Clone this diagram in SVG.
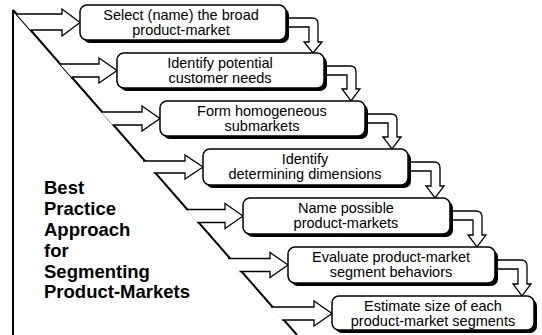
<svg xmlns="http://www.w3.org/2000/svg" width="542" height="335" viewBox="0 0 542 335">
  <style>
    .frame { fill: none; stroke: #000; stroke-width: 2; }
    .body { fill: #fff; stroke: #000; stroke-width: 1.5; }
    .shadow { fill: #000; }
    .arrow { fill: #fff; stroke: #000; stroke-width: 1.3; stroke-linejoin: miter; }
    .label { font-family: "Liberation Sans", Arial, sans-serif; font-size: 14.5px; fill: #000; text-anchor: middle; }
    .title { font-family: "Liberation Sans", Arial, sans-serif; font-size: 18.5px; font-weight: bold; fill: #000; }
  </style>
  <rect width="542" height="335" fill="#fff"/>

  <!-- staircase frame -->
  <g id="frame">
    <path class="frame" d="M13,10 L13,335 M13,10 L297,335"/>
  </g>

  <!-- connectors: block arrows from the frame and bent arrows between steps -->
  <g id="connectors">
    <path class="arrow" d="M16.5,14 L62,14 L62,9 L80,22.5 L62,36 L62,30 L30.5,30"/>
    <path class="arrow" d="M60,64 L99,64 L99,58 L117,70.5 L99,83 L99,77 L71.5,77"/>
    <path class="arrow" d="M101,112 L142,112 L142,106 L160,118.5 L142,131 L142,125 L112.5,125"/>
    <path class="arrow" d="M143,161 L185,161 L185,155 L203,167 L185,179 L185,173 L153.5,173"/>
    <path class="arrow" d="M186,209.5 L225,209.5 L225,203.5 L243,216 L225,228.5 L225,222.5 L197,222.5"/>
    <path class="arrow" d="M228,258.5 L270,258.5 L270,252.5 L288,265 L270,277.5 L270,271.5 L239.5,271.5"/>
    <path class="arrow" d="M271,307 L314,307 L314,301 L332,313.5 L314,326 L314,320 L282,320"/>

    <path class="arrow" d="M286,18 L312,18 Q318,18 318,24 L318,42 L322,42 L313,53 L304,42 L309,42 L309,27 L286,27 Z"/>
    <path class="arrow" d="M324,66 L350,66 Q356,66 356,72 L356,89 L360,89 L351,101 L342,89 L347,89 L347,75 L324,75 Z"/>
    <path class="arrow" d="M365,114 L391,114 Q397,114 397,120 L397,137 L401,137 L392,149 L383,137 L388,137 L388,123 L365,123 Z"/>
    <path class="arrow" d="M408,162 L434,162 Q440,162 440,168 L440,186 L444,186 L435,198 L426,186 L431,186 L431,171 L408,171 Z"/>
    <path class="arrow" d="M450,211 L476,211 Q482,211 482,217 L482,235 L486,235 L477,247 L468,235 L473,235 L473,220 L450,220 Z"/>
    <path class="arrow" d="M495,260 L521,260 Q527,260 527,266 L527,284 L531,284 L522,296 L513,284 L518,284 L518,269 L495,269 Z"/>
  </g>

  <g id="step1">
    <rect class="shadow" x="83" y="8" width="206" height="35" rx="7"/>
    <rect class="body" x="80" y="5" width="206" height="35" rx="7"/>
    <text class="label" x="181" y="20">Select (name) the broad</text>
    <text class="label" x="181" y="35">product-market</text>
  </g>
  <g id="step2">
    <rect class="shadow" x="120" y="56" width="207" height="35" rx="7"/>
    <rect class="body" x="117" y="53" width="207" height="35" rx="7"/>
    <text class="label" x="220" y="68">Identify potential</text>
    <text class="label" x="220" y="83">customer needs</text>
  </g>
  <g id="step3">
    <rect class="shadow" x="163" y="104" width="205" height="35" rx="7"/>
    <rect class="body" x="160" y="101" width="205" height="35" rx="7"/>
    <text class="label" x="262" y="116">Form homogeneous</text>
    <text class="label" x="262" y="131">submarkets</text>
  </g>
  <g id="step4">
    <rect class="shadow" x="206" y="152" width="205" height="36" rx="7"/>
    <rect class="body" x="203" y="149" width="205" height="36" rx="7"/>
    <text class="label" x="305" y="164">Identify</text>
    <text class="label" x="305" y="179">determining dimensions</text>
  </g>
  <g id="step5">
    <rect class="shadow" x="246" y="201" width="207" height="36" rx="7"/>
    <rect class="body" x="243" y="198" width="207" height="36" rx="7"/>
    <text class="label" x="346" y="213">Name possible</text>
    <text class="label" x="346" y="228">product-markets</text>
  </g>
  <g id="step6">
    <rect class="shadow" x="291" y="250" width="207" height="36" rx="7"/>
    <rect class="body" x="288" y="247" width="207" height="36" rx="7"/>
    <text class="label" x="391" y="262">Evaluate product-market</text>
    <text class="label" x="391" y="277">segment behaviors</text>
  </g>
  <g id="step7">
    <rect class="shadow" x="335" y="299" width="202" height="34" rx="7"/>
    <rect class="body" x="332" y="296" width="202" height="34" rx="7"/>
    <text class="label" x="433" y="311">Estimate size of each</text>
    <text class="label" x="433" y="326">product-market segments</text>
  </g>

  <g id="title">
    <text class="title" x="44" y="194">Best</text>
    <text class="title" x="44" y="215">Practice</text>
    <text class="title" x="44" y="236">Approach</text>
    <text class="title" x="44" y="257">for</text>
    <text class="title" x="44" y="278">Segmenting</text>
    <text class="title" x="44" y="298">Product-Markets</text>
  </g>
</svg>
